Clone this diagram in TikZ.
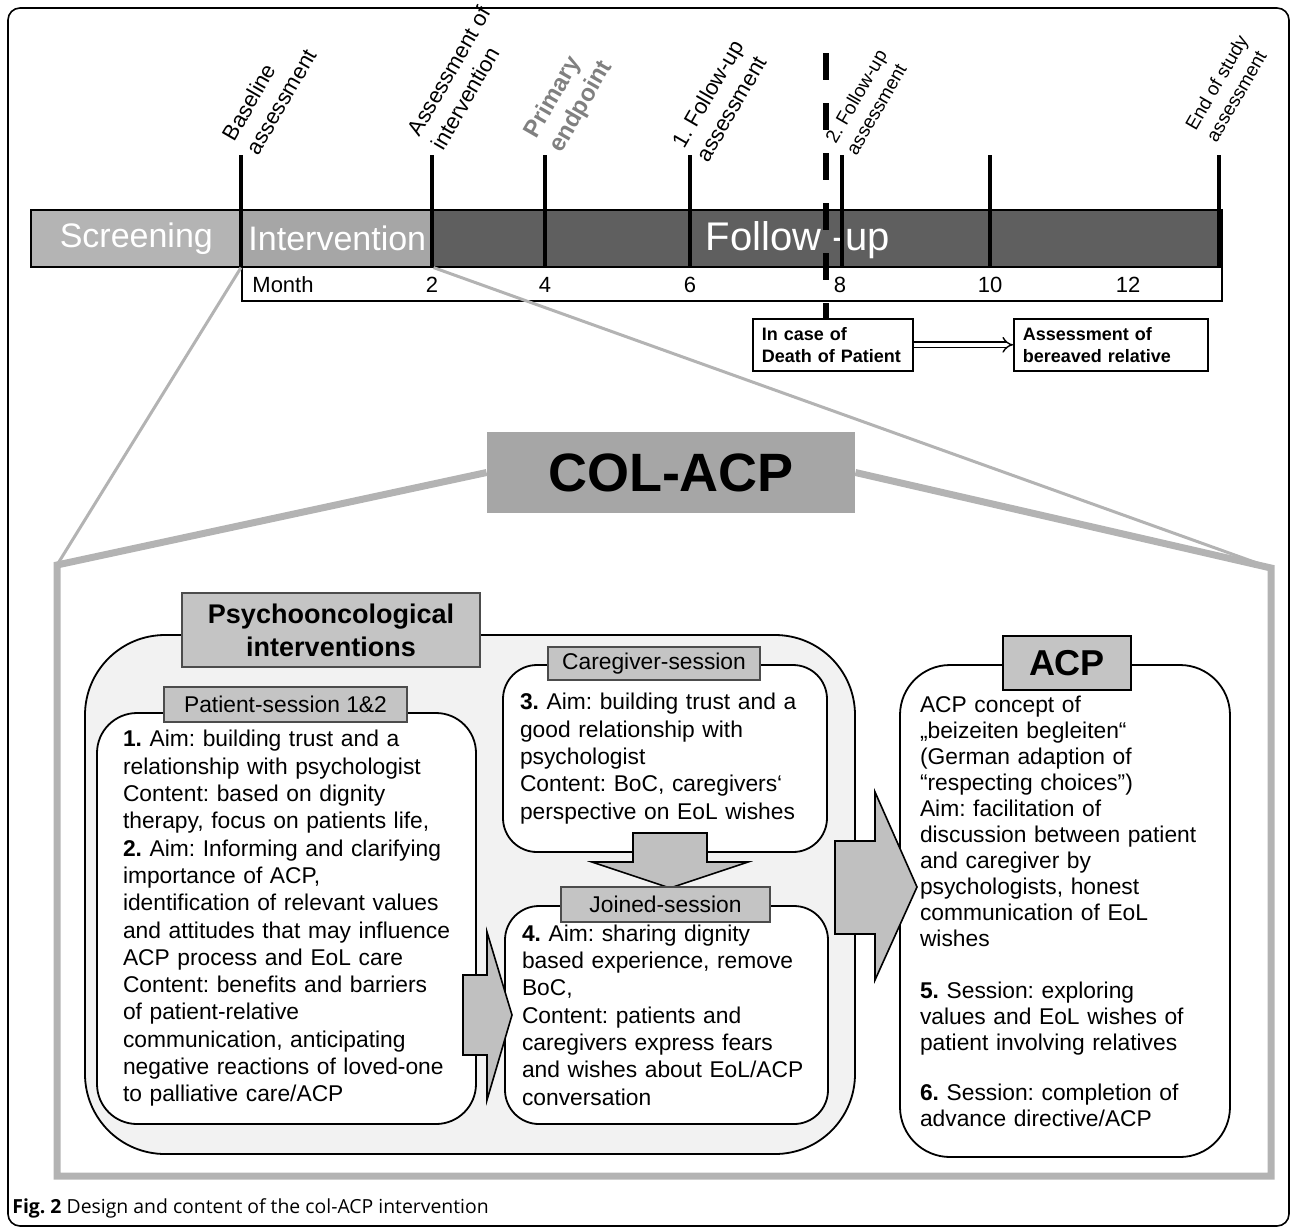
\documentclass[tikz,border=0pt]{standalone}
\usepackage{fontspec}
\setmainfont{Liberation Sans}
\newfontfamily\capfont{Open Sans}
\usetikzlibrary{shapes}
\usetikzlibrary{arrows}

\definecolor{screengray}{HTML}{B4B4B4}
\definecolor{intgray}{HTML}{A6A6A6}
\definecolor{fugray}{HTML}{5F5F5F}
\definecolor{framegray}{HTML}{B3B3B3}
\definecolor{colgray}{HTML}{A6A6A6}
\definecolor{backgray}{HTML}{F2F2F2}
\definecolor{taggray}{HTML}{C4C4C4}
\definecolor{arrowgray}{HTML}{C0C0C0}
\definecolor{endgray}{HTML}{808080}

\begin{document}
\frenchspacing
\begin{tikzpicture}[x=0.5pt,y=-0.5pt]
	\tikzstyle{phase}=[draw=black,line width=0.8pt,anchor=north west,minimum height=28.5pt,inner sep=0pt,text=white,font=\fontsize{17}{20}\selectfont]
	\tikzstyle{tick}=[line width=2.4pt]
	\tikzstyle{ticklab}=[anchor=south west,rotate=60,inner sep=0pt,align=left,font=\fontsize{11}{13.8}\selectfont]
	\tikzstyle{month}=[font=\fontsize{11}{13}\selectfont]
	\tikzstyle{event}=[draw,line width=0.8pt,anchor=north west,minimum height=26pt,inner xsep=4.5pt,align=left,font=\bfseries\fontsize{9}{11}\selectfont]
	\tikzstyle{zoomline}=[draw=framegray,line width=1.5pt]
	\tikzstyle{frameline}=[draw=framegray,line width=3.5pt,line join=miter]
	\tikzstyle{tag}=[draw=black!70,fill=taggray,line width=0.6pt,inner sep=0pt,font=\fontsize{11.4}{13}\selectfont]
	\tikzstyle{sess}=[draw,fill=white,line width=0.9pt,align=left,font=\fontsize{11.4}{13.65}\selectfont]
	\tikzstyle{fatarrow}=[draw,fill=arrowgray,line width=0.8pt,line join=miter]
	\useasboundingbox (0,0) rectangle (1292,1228);
	\draw[line width=0.8pt,rounded corners=6pt] (8,8) rectangle (1289,1226);

	% time line
	\node[phase,fill=screengray,minimum width=105.5pt] (screen) at (30,209) {Screening};
	\node[phase,fill=intgray,minimum width=95.5pt] (interv) at (241,209) {Intervention};
	\node[phase,fill=fugray,minimum width=394.5pt] (follow) at (432,209) {};
	\node[text=white,font=\fontsize{20}{24}\selectfont] (followtxt) at (798,240) {Follow -up};
	\node[draw,line width=0.8pt,anchor=north west,minimum width=490pt,minimum height=17pt,inner sep=0pt] (months) at (241,266) {};
	\node[month] (mlab) at (283,285) {Month};
	\foreach \x/\m in {432/2,545/4,690/6,840/8,990/10,1128/12}
		\node[month] (m\m) at (\x,285) {\m};
	\foreach \x in {241,432,545,690,842,990,1219}
		\draw[tick] (\x,155) -- (\x,266);

	\node[ticklab] (lbase) at (259,157) {Baseline\\assessment};
	\node[ticklab] (lassess) at (444,152) {Assessment of\\intervention};
	\node[ticklab,text=endgray,font=\bfseries\fontsize{12}{14.5}\selectfont] (lprimary) at (566,157) {Primary\\endpoint};
	\node[ticklab] (lfirst) at (709,164) {1. Follow-up\\assessment};
	\node[ticklab,font=\fontsize{9.5}{12}\selectfont] (lsecond) at (857,157) {2. Follow-up\\assessment};
	\node[ticklab,font=\fontsize{9.5}{12}\selectfont] (lend) at (1217,144) {End of study\\assessment};

	% death of patient
	\node[event,text width=71pt] (death) at (752,318) {In case of\\Death of Patient};
	\node[event,text width=88pt] (bereaved) at (1013,318) {Assessment of\\bereaved relative};
	\draw[double,double distance=2pt,line width=0.7pt,-implies] (death) -- (bereaved);
	\coordinate (dashtop) at (826,53);
	\draw[line width=3pt,dash pattern=on 13.5pt off 11.5pt] (dashtop) -- (dashtop |- death.north);

	% zoom into the intervention
	\coordinate (fl) at (57,565);
	\coordinate (fr) at (1271,568);
	\draw[zoomline] (interv.south west) -- (fl);
	\draw[zoomline] (interv.south east) -- (fr);
	\node[fill=colgray,minimum width=184pt,minimum height=40.5pt,font=\bfseries\fontsize{27}{30}\selectfont] (colacp) at (671,472.5) {COL-ACP};
	\draw[frameline] (colacp.west) -- (fl) -- (57,1176) -- (1271,1176) -- (fr) -- (colacp.east);

	\node[draw,fill=backgray,line width=0.9pt,rounded corners=40pt,minimum width=385pt,minimum height=259.5pt] (psych) at (470,894.5) {};

	\node[sess,rounded corners=20pt,minimum height=205.5pt,inner xsep=13pt,text width=163.5pt] (patient) at (286.5,918.5) {\textbf{1.} Aim: building trust and a\\
		relationship with psychologist\\
		Content: based on dignity\\
		therapy, focus on patients life,\\
		\textbf{2.} Aim: Informing and clarifying\\
		importance of ACP,\\
		identification of relevant values\\
		and attitudes that may influence\\
		ACP process and EoL care\\
		Content: benefits and barriers\\
		of patient-relative\\
		communication, anticipating\\
		negative reactions of loved-one\\
		to palliative care/ACP};
	\node[sess,rounded corners=17pt,minimum height=93.5pt,inner xsep=8.5pt,text width=145pt] (caregiver) at (665,758.5) {\textbf{3.} Aim: building trust and a\\
		good relationship with\\
		psychologist\\
		Content: BoC, caregivers‘\\
		perspective on EoL wishes};
	\node[sess,rounded corners=17pt,minimum height=109pt,inner xsep=8.5pt,text width=144.5pt] (joined) at (666.5,1015) {\textbf{4.} Aim: sharing dignity\\
		based experience, remove\\
		BoC,\\
		Content: patients and\\
		caregivers express fears\\
		and wishes about EoL/ACP\\
		conversation};
	\node[sess,rounded corners=25pt,minimum height=246pt,inner xsep=10pt,text width=145pt,font=\fontsize{11.4}{13}\selectfont] (acp) at (1065,911) {ACP concept of\\
		„beizeiten begleiten“\\
		(German adaption of\\
		“respecting choices”)\\
		Aim: facilitation of\\
		discussion between patient\\
		and caregiver by\\
		psychologists, honest\\
		communication of EoL\\
		wishes\\[13pt]
		\textbf{5.} Session: exploring\\
		values and EoL wishes of\\
		patient involving relatives\\[12pt]
		\textbf{6.} Session: completion of\\
		advance directive/ACP};

	% fat arrows
	\draw[fatarrow] (633,833) -- (707,833) -- (707,862) -- (748,862) -- (670,888) -- (592,862) -- (633,862) -- cycle;
	\draw[fatarrow] (463,975) -- (487,975) -- (487,932) -- (512,1015) -- (487,1100) -- (487,1055) -- (463,1055) -- cycle;
	\draw[fatarrow] (835,841) -- (875,841) -- (875,792) -- (917,887) -- (875,980) -- (875,934) -- (835,934) -- cycle;

	% session tags
	\node[tag,minimum width=149pt,minimum height=37pt,align=center,font=\bfseries\fontsize{13.5}{16.5}\selectfont] (psychtag) at (331,630) {Psychooncological\\interventions};
	\node[tag,minimum width=121.5pt,minimum height=17.5pt] (pattag) at (285.5,704.5) {Patient-session 1\&2};
	\node[tag,minimum width=106pt,minimum height=16.5pt] (caretag) at (654,663.5) {Caregiver-session};
	\node[tag,minimum width=104.5pt,minimum height=17.5pt] (jointag) at (665.5,904.5) {Joined-session};
	\node[tag,draw=black,line width=1.2pt,minimum width=64pt,minimum height=27pt,font=\bfseries\fontsize{18}{20}\selectfont] (acptag) at (1067,663) {ACP};

	\node[anchor=west,inner sep=0pt,font=\capfont\fontsize{9.7}{11.5}\selectfont] (caption) at (12,1208) {\textbf{Fig. 2} Design and content of the col-ACP intervention};
\end{tikzpicture}
\end{document}
